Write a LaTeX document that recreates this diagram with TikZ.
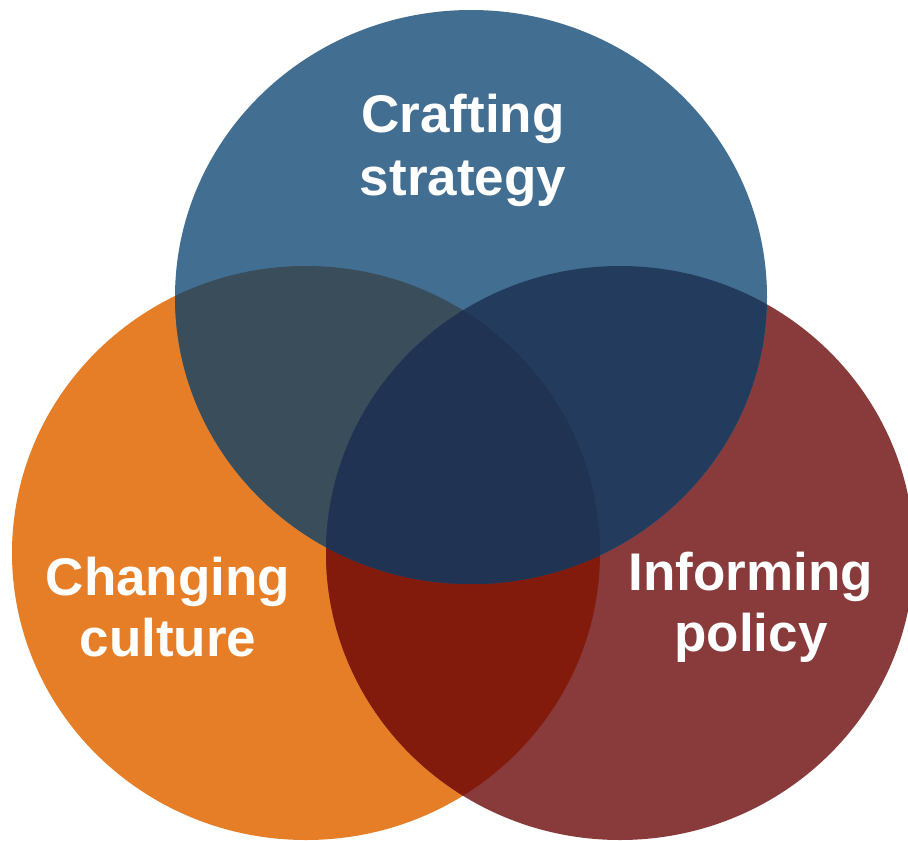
\documentclass[tikz,border=0pt]{standalone}
\usepackage{fontspec}
\setmainfont{Liberation Sans}
\usetikzlibrary{positioning}
\usepackage{xcolor}

% Fill colours of the three sets and of their overlaps
\definecolor{stratBlue}{RGB}{66,110,146}
\definecolor{cultOrange}{RGB}{229,126,38}
\definecolor{polRed}{RGB}{137,59,60}
\definecolor{mixBlueOrange}{RGB}{58,77,91}
\definecolor{mixBlueRed}{RGB}{35,60,93}
\definecolor{mixOrangeRed}{RGB}{131,27,12}
\definecolor{mixAll}{RGB}{33,51,82}

% The three discs
\def\strategyDisc{(471,297) ellipse [x radius=296, y radius=287]}
\def\cultureDisc{(306,553) ellipse [x radius=294, y radius=287]}
\def\policyDisc{(620,553) ellipse [x radius=294, y radius=287]}

\tikzset{
    vennText/.style={text=white, align=center, inner sep=0pt,
                     font=\fontsize{53}{63}\selectfont\bfseries},
    lowText/.style={vennText, font=\fontsize{53}{61}\selectfont\bfseries}
}

\begin{document}
\begin{tikzpicture}[x=1pt, y=-1pt]
\useasboundingbox (0,0) rectangle (908,841);

% base discs
\fill[cultOrange] \cultureDisc;
\fill[polRed] \policyDisc;
\fill[stratBlue] \strategyDisc;

% pairwise overlaps
\begin{scope}
    \clip \cultureDisc;
    \fill[mixOrangeRed] \policyDisc;
    \fill[mixBlueOrange] \strategyDisc;
\end{scope}
\begin{scope}
    \clip \policyDisc;
    \fill[mixBlueRed] \strategyDisc;
\end{scope}

% middle where all three meet
\begin{scope}
    \clip \cultureDisc;
    \clip \policyDisc;
    \fill[mixAll] \strategyDisc;
\end{scope}

% labels
\node[vennText] (strategy) at (463,150) {Crafting\\strategy};
\node[lowText] (culture) at (168,607) {Changing\\culture};
\node[lowText] (policy) at (751,607) {Informing\\policy};

\end{tikzpicture}
\end{document}
